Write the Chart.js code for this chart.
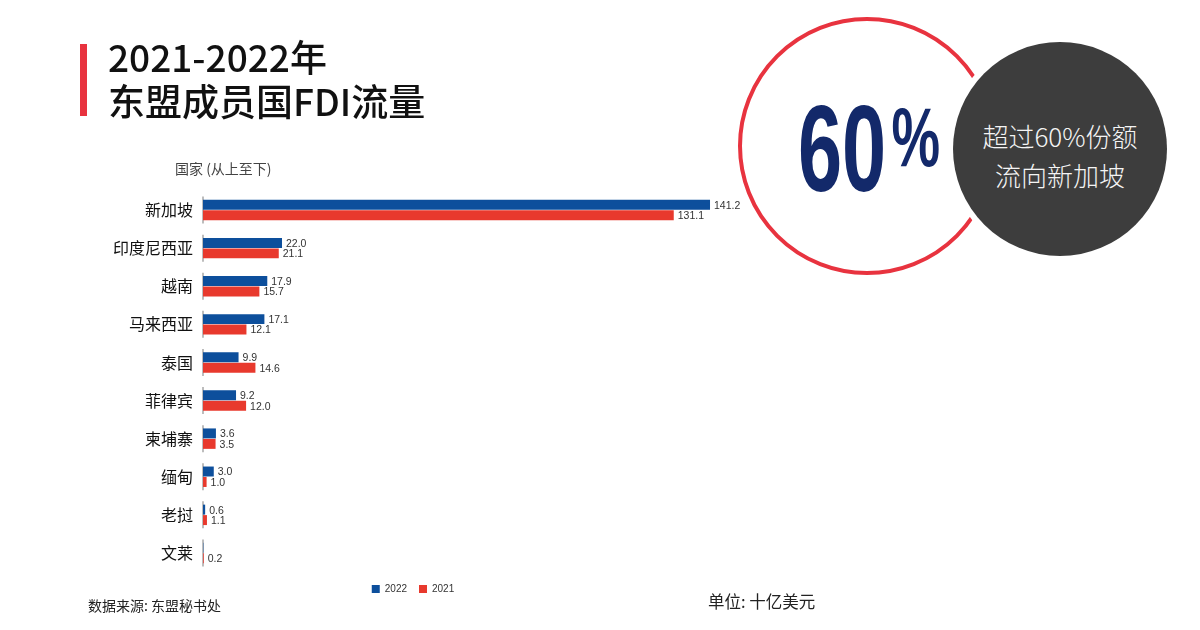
<!DOCTYPE html>
<html>
<head>
<meta charset="utf-8">
<script src="https://cdn.jsdelivr.net/npm/chart.js@4.4.1/dist/chart.umd.min.js"></script>
<style>
  html, body { margin: 0; padding: 0; background: #fff; }
  body { width: 1200px; height: 630px; position: relative; overflow: hidden; font-family: "Noto Sans CJK SC", "Noto Sans", sans-serif; }
  #wrap { position: absolute; left: 0; top: 0; width: 826px; height: 610px; }
  .abs { position: absolute; white-space: nowrap; }
  #bar { left: 80px; top: 44px; width: 7px; height: 72px; background: #e8333f; }
  #title { left: 108px; top: 34px; font-size: 37px; font-weight: 500; line-height: 44px; color: #111; }
  #sub { left: 175px; top: 158px; font-size: 14px; color: #444; }
  #src { left: 88px; top: 595px; font-size: 14px; color: #222; }
  #unit { left: 708px; top: 589px; font-size: 16.5px; color: #222; }
  #ring { left: 740px; top: 19px; width: 250px; height: 250px; border: 4px solid #e8333f; border-radius: 50%; box-sizing: content-box; margin-left: -2px; margin-top: -2px; }
  #gap { left: 947px; top: 36px; width: 226px; height: 226px; border-radius: 50%; background: #fff; }
  #dark { left: 953px; top: 42px; width: 214px; height: 214px; border-radius: 50%; background: #3d3d3d; }
  #darktxt { left: 953px; top: 116px; width: 214px; text-align: center; color: #f4f4f4; font-size: 26px; line-height: 39px; font-weight: 300; }
  #big { left: 798px; top: 62px; color: #13296a; font-family: "Liberation Sans", Arial, sans-serif; font-weight: bold; font-size: 122px; line-height: 150px; transform: scaleX(0.65); transform-origin: left top; }
  #big span { font-size: 84px; vertical-align: 25px; margin-left: 8px; }
</style>
</head>
<body>
<div id="wrap"><canvas id="c"></canvas></div>
<div class="abs" id="bar"></div>
<div class="abs" id="title">2021-2022年<br>东盟成员国FDI流量</div>
<div class="abs" id="sub">国家 (从上至下)</div>
<div class="abs" id="src">数据来源: 东盟秘书处</div>
<div class="abs" id="unit">单位: 十亿美元</div>
<div class="abs" id="ring"></div>
<div class="abs" id="gap"></div>
<div class="abs" id="dark"></div>
<div class="abs" id="darktxt">超过60%份额<br>流向新加坡</div>
<div class="abs" id="big">60<span>%</span></div>
<script>
const categories = ['新加坡', '印度尼西亚', '越南', '马来西亚', '泰国', '菲律宾', '柬埔寨', '缅甸', '老挝', '文莱'];
const values2022 = [141.2, 22.0, 17.9, 17.1, 9.9, 9.2, 3.6, 3.0, 0.6, 0.1];
const values2021 = [131.1, 21.1, 15.7, 12.1, 14.6, 12.0, 3.5, 1.0, 1.1, 0.2];
const labels2022 = ['141.2', '22.0', '17.9', '17.1', '9.9', '9.2', '3.6', '3.0', '0.6', ''];
const labels2021 = ['131.1', '21.1', '15.7', '12.1', '14.6', '12.0', '3.5', '1.0', '1.1', '0.2'];
const seriesNames = ['2022', '2021'];

const axisSegments = {
  id: 'axisSegments',
  beforeDatasetsDraw(chart) {
    const ctx = chart.ctx, y = chart.scales.y, x0 = chart.chartArea.left;
    ctx.save();
    ctx.strokeStyle = '#9a9a9a';
    ctx.lineWidth = 1.3;
    categories.forEach((c, i) => {
      const py = y.getPixelForValue(i);
      ctx.beginPath();
      ctx.moveTo(x0, py - 13.5);
      ctx.lineTo(x0, py + 13.5);
      ctx.stroke();
    });
    ctx.restore();
  }
};

const valueLabels = {
  id: 'valueLabels',
  afterDatasetsDraw(chart) {
    const ctx = chart.ctx;
    const texts = [labels2022, labels2021];
    ctx.save();
    ctx.font = '10.5px "Liberation Sans Narrow", "Liberation Sans", Arial, sans-serif';
    ctx.fillStyle = '#333';
    ctx.textBaseline = 'middle';
    ctx.textAlign = 'left';
    chart.data.datasets.forEach((ds, di) => {
      const meta = chart.getDatasetMeta(di);
      meta.data.forEach((el, i) => {
        const t = texts[di][i];
        if (t) ctx.fillText(t, el.x + 4, el.y + 1);
      });
    });
    ctx.restore();
  }
};

new Chart(document.getElementById('c'), {
  type: 'bar',
  data: {
    labels: categories,
    datasets: [
      { label: seriesNames[0], data: values2022, backgroundColor: '#0d4f9c', borderWidth: 0 },
      { label: seriesNames[1], data: values2021, backgroundColor: '#e8392d', borderWidth: 0 }
    ]
  },
  options: {
    indexAxis: 'y',
    responsive: true,
    maintainAspectRatio: false,
    animation: false,
    datasets: { bar: { categoryPercentage: 0.55, barPercentage: 0.95 } },
    layout: { padding: { top: 191, bottom: 6, left: 0, right: 0 } },
    scales: {
      x: { display: false, min: 0, max: 173.5 },
      y: {
        grid: { display: false, drawTicks: false },
        border: { display: false },
        ticks: { color: '#111', padding: 10, font: { family: '"Noto Sans CJK SC"', size: 16 } },
        afterFit(s) { s.width = 203; }
      }
    },
    plugins: {
      legend: {
        position: 'bottom',
        labels: { boxWidth: 8, boxHeight: 8, padding: 12, color: '#333', font: { family: '"Liberation Sans Narrow", "Liberation Sans", Arial', size: 10 } }
      },
      tooltip: { enabled: false }
    }
  },
  plugins: [axisSegments, valueLabels]
});
</script>
</body>
</html>
